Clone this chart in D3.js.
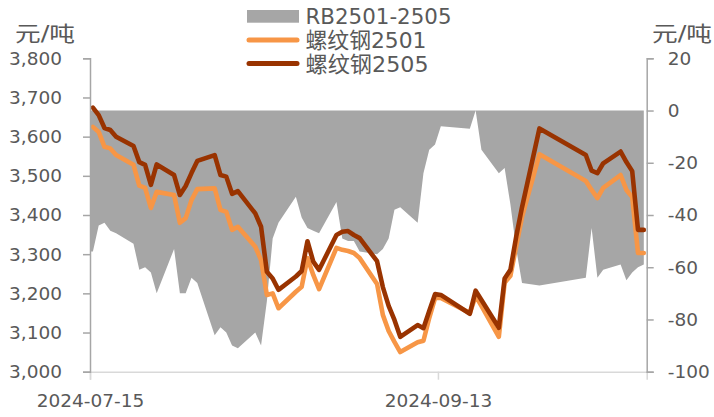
<!DOCTYPE html>
<html>
<head>
<meta charset="utf-8">
<script src="https://cdn.jsdelivr.net/npm/d3@7"></script>
<style>
  html, body { margin: 0; padding: 0; background: #ffffff; }
  svg { display: block; }
  text { font-family: "DejaVu Sans", "Noto Sans CJK SC", sans-serif; fill: #595959; }
</style>
</head>
<body>
<svg id="chart" width="714" height="417"></svg>
<script>
// ---------- data ----------
const dates = [
  "2024-07-15","2024-07-16","2024-07-17","2024-07-18","2024-07-19",
  "2024-07-22","2024-07-23","2024-07-24","2024-07-25","2024-07-26",
  "2024-07-29","2024-07-30","2024-07-31","2024-08-01","2024-08-02",
  "2024-08-05","2024-08-06","2024-08-07","2024-08-08","2024-08-09",
  "2024-08-12","2024-08-13","2024-08-14","2024-08-15","2024-08-16",
  "2024-08-19","2024-08-20","2024-08-21","2024-08-22","2024-08-23",
  "2024-08-26","2024-08-27","2024-08-28","2024-08-29","2024-08-30",
  "2024-09-02","2024-09-03","2024-09-04","2024-09-05","2024-09-06",
  "2024-09-09","2024-09-10","2024-09-11","2024-09-12","2024-09-13",
  "2024-09-18","2024-09-19","2024-09-20",
  "2024-09-23","2024-09-24","2024-09-25","2024-09-26","2024-09-27",
  "2024-09-30",
  "2024-10-08","2024-10-09","2024-10-10","2024-10-11",
  "2024-10-14","2024-10-15","2024-10-16","2024-10-17","2024-10-18"
];
const rb2501 = [
  3625,3612,3574,3570,3553,
  3528,3475,3469,3418,3459,
  3451,3380,3392,3438,3466,
  3468,3413,3408,3362,3370,
  3319,3285,3196,3200,3162,
  3204,3217,3290,3247,3211,
  3316,3311,3308,3303,3290,
  3224,3145,3104,3076,3050,
  3075,3079,3137,3188,3188,
  3150,3193,3168,
  3089,3227,3245,3321,3395,
  3555,
  3487,3464,3443,3469,
  3502,3464,3446,3303,3303
];
const rb2505 = [
  3674,3655,3622,3617,3600,
  3576,3535,3528,3477,3529,
  3502,3451,3474,3507,3538,
  3553,3502,3498,3454,3461,
  3404,3370,3255,3238,3209,
  3243,3257,3333,3281,3260,
  3349,3357,3359,3349,3341,
  3282,3216,3168,3132,3089,
  3119,3111,3155,3198,3196,
  3148,3207,3183,
  3112,3238,3260,3345,3420,
  3621,
  3553,3513,3507,3532,
  3562,3535,3512,3362,3362
];
const spread = [
  -54,-44,-43,-46,-47,
  -51,-61,-60,-62,-70,
  -53,-70,-70,-64,-66,
  -86,-83,-85,-90,-91,
  -85,-90,-73,-49,-43,
  -33,-41,-45,-46,-47,
  -35,-49,-50,-50,-54,
  -55,-53,-49,-38,-37,
  -43,-24,-15,-13,-6,
  -7,0,-15,
  -24,-22,-36,-53,-66,
  -67,
  -64,-45,-64,-61,
  -59,-65,-62,-60,-59
];
const leftTicks = [3000,3100,3200,3300,3400,3500,3600,3700,3800];
const rightTicks = [-100,-80,-60,-40,-20,0,20];
const xTickLabels = ["2024-07-15","2024-09-13"];
const xDomain = ["2024-07-15","2024-10-19"];
const seriesNames = ["RB2501-2505","螺纹钢2501","螺纹钢2505"];
const unitLabel = "元/吨";

// ---------- layout / style ----------
const plot = { left: 90, right: 646.7, top: 58.3, bottom: 371.7 };
const colors = { area: "#a6a6a6", orange: "#f79646", dark: "#993300" };
const axisColor = "#a6a6a6";
const baseColor = "#d9d9d9";

const parse = d3.utcParse("%Y-%m-%d");
const mid = s => d3.utcHour.offset(parse(s), 12);

const x = d3.scaleUtc()
  .domain(xDomain.map(parse))
  .range([plot.left, plot.right]);
const yL = d3.scaleLinear().domain([3000, 3800]).range([plot.bottom, plot.top]);
const yR = d3.scaleLinear().domain([-100, 20]).range([plot.bottom, plot.top]);

const svg = d3.select("#chart");

const pts = dates.map((d, i) => ({
  t: mid(d), a: rb2501[i], b: rb2505[i], s: spread[i]
}));

// area (spread, right axis)
const areaPts = [{ t: x.domain()[0], s: spread[0] }].concat(pts);
svg.append("path")
  .datum(areaPts)
  .attr("fill", colors.area)
  .attr("d", d3.area()
    .x(d => x(d.t))
    .y0(yR(0))
    .y1(d => yR(d.s)));

// bottom axis line
const xAxis = d3.axisBottom(x)
  .tickValues(xTickLabels.map(parse))
  .tickFormat(d3.utcFormat("%Y-%m-%d"))
  .tickSize(8)
  .tickPadding(14);
const gx = svg.append("g")
  .attr("transform", `translate(0,${plot.bottom})`)
  .call(xAxis);
gx.select(".domain").attr("stroke", baseColor).attr("stroke-width", 1.5);
gx.selectAll(".tick line").attr("stroke", baseColor).attr("stroke-width", 1.5);
gx.selectAll(".tick text")
  .attr("font-size", 18.5)
  .attr("fill", "#595959")
  .style("font-family", "'DejaVu Sans', sans-serif");

// lines
const lineA = d3.line().x(d => x(d.t)).y(d => yL(d.a));
const lineB = d3.line().x(d => x(d.t)).y(d => yL(d.b));
svg.append("path").datum(pts)
  .attr("fill", "none").attr("stroke", colors.orange)
  .attr("stroke-width", 4.6).attr("stroke-linejoin", "round").attr("stroke-linecap", "round")
  .attr("d", lineA);
svg.append("path").datum(pts)
  .attr("fill", "none").attr("stroke", colors.dark)
  .attr("stroke-width", 4.6).attr("stroke-linejoin", "round").attr("stroke-linecap", "round")
  .attr("d", lineB);

// left axis
const gl = svg.append("g")
  .attr("transform", `translate(${plot.left},0)`)
  .call(d3.axisLeft(yL).tickValues(leftTicks).tickFormat(d3.format(",")).tickSizeOuter(0).tickSize(7).tickPadding(21));
gl.select(".domain").attr("stroke", axisColor).attr("stroke-width", 1.5);
gl.selectAll(".tick line").attr("stroke", axisColor).attr("stroke-width", 1.5);
gl.selectAll(".tick text").attr("font-size", 18.5).attr("fill", "#595959")
  .style("font-family", "'DejaVu Sans', sans-serif");

// right axis
const gr = svg.append("g")
  .attr("transform", `translate(${plot.right},0)`)
  .call(d3.axisRight(yR).tickValues(rightTicks).tickFormat(d => String(d)).tickSizeOuter(0).tickSize(7).tickPadding(14));
gr.select(".domain").attr("stroke", axisColor).attr("stroke-width", 1.5);
gr.selectAll(".tick line").attr("stroke", axisColor).attr("stroke-width", 1.5);
gr.selectAll(".tick text").attr("font-size", 18.5).attr("fill", "#595959")
  .style("font-family", "'DejaVu Sans', sans-serif");

// unit labels
svg.append("text").attr("x", 15).attr("y", 41).attr("font-size", 21)
  .attr("textLength", 60).attr("lengthAdjust", "spacingAndGlyphs")
  .text(unitLabel);
svg.append("text").attr("x", 652).attr("y", 41).attr("font-size", 21)
  .attr("textLength", 60).attr("lengthAdjust", "spacingAndGlyphs")
  .text(unitLabel);

// legend
const lg = svg.append("g");
const lx = 247, lw = 52, tx = 305.5;
lg.append("rect").attr("x", lx).attr("y", 10).attr("width", lw).attr("height", 12.7).attr("fill", colors.area);
lg.append("line").attr("x1", lx + 2).attr("x2", lx + lw - 2).attr("y1", 40).attr("y2", 40)
  .attr("stroke", colors.orange).attr("stroke-width", 5).attr("stroke-linecap", "round");
lg.append("line").attr("x1", lx + 2).attr("x2", lx + lw - 2).attr("y1", 63.5).attr("y2", 63.5)
  .attr("stroke", colors.dark).attr("stroke-width", 5).attr("stroke-linecap", "round");
const legendY = [24, 48, 72];
const legendW = [146, 121, 123];
seriesNames.forEach((n, i) => {
  lg.append("text").attr("x", tx).attr("y", legendY[i]).attr("font-size", 22)
    .attr("textLength", legendW[i]).attr("lengthAdjust", "spacingAndGlyphs")
    .text(n);
});
</script>
</body>
</html>
